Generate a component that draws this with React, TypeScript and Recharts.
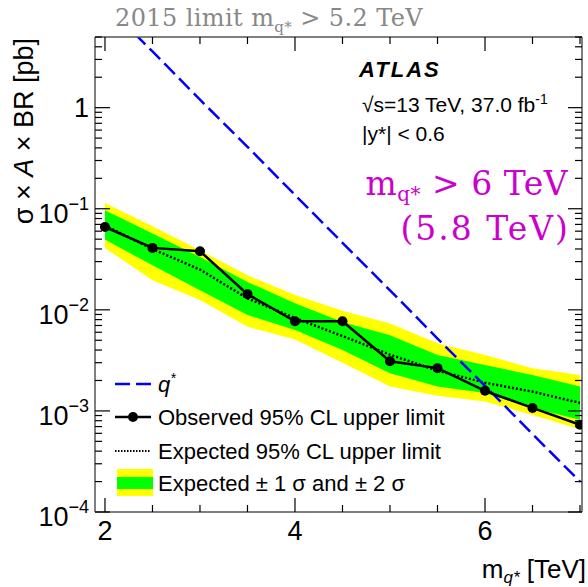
import React from 'react';
import { ComposedChart, Area, Line, XAxis, YAxis } from 'recharts';

// q* mass points [TeV]
const massTeV = [2, 2.5, 3, 3.5, 4, 4.5, 5, 5.5, 6, 6.5, 7];
// sigma x A x BR [pb]
const observedLimit = [0.066, 0.041, 0.038, 0.0143, 0.0077, 0.0077, 0.0031, 0.00265, 0.00158, 0.00107, 0.00073];
const expectedLimit = [0.068, 0.04, 0.025, 0.013, 0.0083, 0.0055, 0.0036, 0.0025, 0.0019, 0.00155, 0.0012];
const expectedMinus2 = [0.0409, 0.0196, 0.0125, 0.0068, 0.0051, 0.003, 0.00174, 0.00141, 0.00124, 0.00091, 0.00066];
const expectedMinus1 = [0.0495, 0.0276, 0.0156, 0.0089, 0.0063, 0.004, 0.00236, 0.00174, 0.0015, 0.00106, 0.00082];
const expectedPlus1 = [0.0964, 0.0568, 0.0333, 0.0189, 0.0116, 0.0076, 0.00562, 0.00357, 0.00284, 0.00226, 0.00174];
const expectedPlus2 = [0.114, 0.067, 0.0388, 0.022, 0.014, 0.0098, 0.00734, 0.00466, 0.00357, 0.00264, 0.00226];
const qStarTheory = [10.6, 3.6, 1.2, 0.41, 0.137, 0.046, 0.0156, 0.0052, 0.00177, 0.00059, 0.0002];

const xTicks = [2, 2.5, 3, 3.5, 4, 4.5, 5, 5.5, 6, 6.5, 7];
const xMajor = [2, 4, 6];
const yDecades = [1e-4, 1e-3, 1e-2, 1e-1, 1];
const yMultipliers = [1, 2, 3, 4, 5, 6, 7, 8, 9];

const yTicks = yDecades
  .flatMap((d) => yMultipliers.map((m) => d * m))
  .filter((v) => v <= 5.0001);

const data = massTeV.map((m, i) => ({
  m,
  band2: [expectedMinus2[i], expectedPlus2[i]],
  band1: [expectedMinus1[i], expectedPlus1[i]],
  obs: observedLimit[i],
  exp: expectedLimit[i],
  theory: qStarTheory[i],
}));

const FONT = '"Liberation Sans", Arial, Helvetica, sans-serif';
const SERIF = '"DejaVu Serif", serif';
const TICK = '#000';

const isDecade = (v: number) => Math.abs(Math.log10(v) - Math.round(Math.log10(v))) < 1e-6;

function LeftTick({ x, y, payload }: any) {
  const v = payload.value as number;
  const major = isDecade(v);
  const e = Math.round(Math.log10(v));
  return (
    <g>
      <line x1={x} x2={x + (major ? 15 : 7)} y1={y} y2={y} stroke={TICK} strokeWidth={1.2} />
      {major && (
        <text x={x - 6} y={e === 0 ? y + 9 : y + 14} textAnchor="end" fontSize={27} fontFamily={FONT} fill="#000">
          {e === 0 ? (
            '1'
          ) : (
            <>
              10
              <tspan dy={-13} fontSize={18}>
                {'\u2212' + -e}
              </tspan>
            </>
          )}
        </text>
      )}
    </g>
  );
}

function RightTick({ x, y, payload }: any) {
  const major = isDecade(payload.value);
  return <line x1={x} x2={x - (major ? 14 : 7)} y1={y} y2={y} stroke={TICK} strokeWidth={1.2} />;
}

function BottomTick({ x, y, payload }: any) {
  const v = payload.value as number;
  const major = xMajor.includes(v);
  return (
    <g>
      <line x1={x} x2={x} y1={y} y2={y - (major ? 14 : 7)} stroke={TICK} strokeWidth={1.2} />
      {major && (
        <text x={x} y={y + 28} textAnchor="middle" fontSize={27} fontFamily={FONT} fill="#000">
          {v}
        </text>
      )}
    </g>
  );
}

function TopTick({ x, y, payload }: any) {
  const major = xMajor.includes(payload.value);
  return <line x1={x} x2={x} y1={y} y2={y + (major ? 14 : 7)} stroke={TICK} strokeWidth={1.2} />;
}

const frame = { stroke: '#555', strokeWidth: 1.5 };

export default function App() {
  return (
    <div style={{ position: 'absolute', left: 0, top: 0, width: 588, height: 587, background: '#fff' }}>
      <ComposedChart width={588} height={587} data={data} margin={{ top: 36, right: 5, bottom: 74, left: 94 }}>
        <XAxis
          dataKey="m"
          type="number"
          domain={[1.895, 7.021]}
          allowDataOverflow
          ticks={xTicks}
          interval={0}
          height={1}
          tickSize={0}
          tickMargin={0}
          tickLine={false}
          axisLine={frame}
          tick={<BottomTick />}
        />
        <XAxis
          xAxisId="top"
          orientation="top"
          dataKey="m"
          type="number"
          domain={[1.895, 7.021]}
          allowDataOverflow
          ticks={xTicks}
          interval={0}
          height={1}
          tickSize={0}
          tickMargin={0}
          tickLine={false}
          axisLine={frame}
          tick={<TopTick />}
        />
        <YAxis
          scale="log"
          type="number"
          domain={[1e-4, 5]}
          allowDataOverflow
          ticks={yTicks}
          interval={0}
          width={1}
          tickSize={0}
          tickMargin={0}
          tickLine={false}
          axisLine={frame}
          tick={<LeftTick />}
        />
        <YAxis
          yAxisId="right"
          orientation="right"
          scale="log"
          type="number"
          domain={[1e-4, 5]}
          allowDataOverflow
          ticks={yTicks}
          interval={0}
          width={1}
          tickSize={0}
          tickMargin={0}
          tickLine={false}
          axisLine={frame}
          tick={<RightTick />}
        />
        <Area dataKey="band2" type="linear" stroke="none" fill="#ffff00" fillOpacity={1} isAnimationActive={false} />
        <Area dataKey="band1" type="linear" stroke="none" fill="#00ff00" fillOpacity={1} isAnimationActive={false} />
        <Line dataKey="exp" type="linear" stroke="#000" strokeWidth={2.5} strokeDasharray="2 2" dot={false} isAnimationActive={false} />
        <Line dataKey="theory" type="linear" stroke="#0000ff" strokeWidth={2.5} strokeDasharray="15 6" dot={false} isAnimationActive={false} />
        <Line
          dataKey="obs"
          type="linear"
          stroke="#000"
          strokeWidth={2.5}
          dot={{ r: 5, fill: '#000', stroke: '#000', strokeWidth: 0 }}
          isAnimationActive={false}
        />
      </ComposedChart>

      <svg width={588} height={587} style={{ position: 'absolute', left: 0, top: 0, pointerEvents: 'none' }}>
        {/* previous limit */}
        <text x={115} y={26} fontSize={24} letterSpacing={0.4} fontFamily={SERIF} fill="#888">
          2015 limit m
          <tspan dy={6} fontSize={15}>q*</tspan>
          <tspan dy={-6}> &gt; 5.2 TeV</tspan>
        </text>

        {/* axis titles */}
        <text transform="translate(33,38) rotate(-90)" textAnchor="end" fontSize={27} fontFamily={FONT} fill="#000">
          σ × <tspan fontStyle="italic">A</tspan> × BR [pb]
        </text>
        <text x={586} y={578} textAnchor="end" fontSize={26} fontFamily={FONT} fill="#000">
          m
          <tspan dy={5} fontSize={17} fontStyle="italic">q*</tspan>
          <tspan dy={-5}> [TeV]</tspan>
        </text>

        {/* ATLAS label */}
        <text x={359} y={77} fontSize={22} fontWeight="bold" fontStyle="italic" fontFamily={FONT} letterSpacing={2} fill="#000">
          ATLAS
        </text>
        <text x={362} y={112} fontSize={21} fontFamily={FONT} fill="#000">
          √s=13 TeV, 37.0 fb<tspan dy={-8} fontSize={14}>-1</tspan>
        </text>
        <text x={362} y={141} fontSize={21} fontFamily={FONT} fill="#000">
          |y*| &lt; 0.6
        </text>

        {/* new limit */}
        <text x={568} y={195} textAnchor="end" fontSize={33} letterSpacing={0.5} fontFamily={SERIF} fill="#cc00cc">
          m<tspan dy={6} fontSize={20}>q*</tspan>
          <tspan dy={-6}> &gt; 6 TeV</tspan>
        </text>
        <text x={570} y={240} textAnchor="end" fontSize={33} letterSpacing={2} fontFamily={SERIF} fill="#cc00cc">
          (5.8 TeV)
        </text>

        {/* legend */}
        <g fontFamily={FONT} fontSize={22} fill="#000">
          <line x1={115} x2={151} y1={384} y2={384} stroke="#0000ff" strokeWidth={2.5} strokeDasharray="15 6" />
          <text x={158} y={392} fontStyle="italic">
            q<tspan dy={-9} fontSize={14}>*</tspan>
          </text>

          <line x1={115} x2={151} y1={417} y2={417} stroke="#000" strokeWidth={2.5} />
          <circle cx={133} cy={417} r={5} fill="#000" />
          <text x={158} y={425}>Observed 95% CL upper limit</text>

          <line x1={115} x2={151} y1={451} y2={451} stroke="#000" strokeWidth={2} strokeDasharray="1.5 1.5" />
          <text x={158} y={459}>Expected 95% CL upper limit</text>

          <rect x={117} y={469} width={36} height={27} fill="#ffff00" />
          <rect x={117} y={477} width={36} height={12} fill="#00ff00" />
          <text x={158} y={491}>Expected ± 1 σ and ± 2 σ</text>
        </g>
      </svg>
    </div>
  );
}
